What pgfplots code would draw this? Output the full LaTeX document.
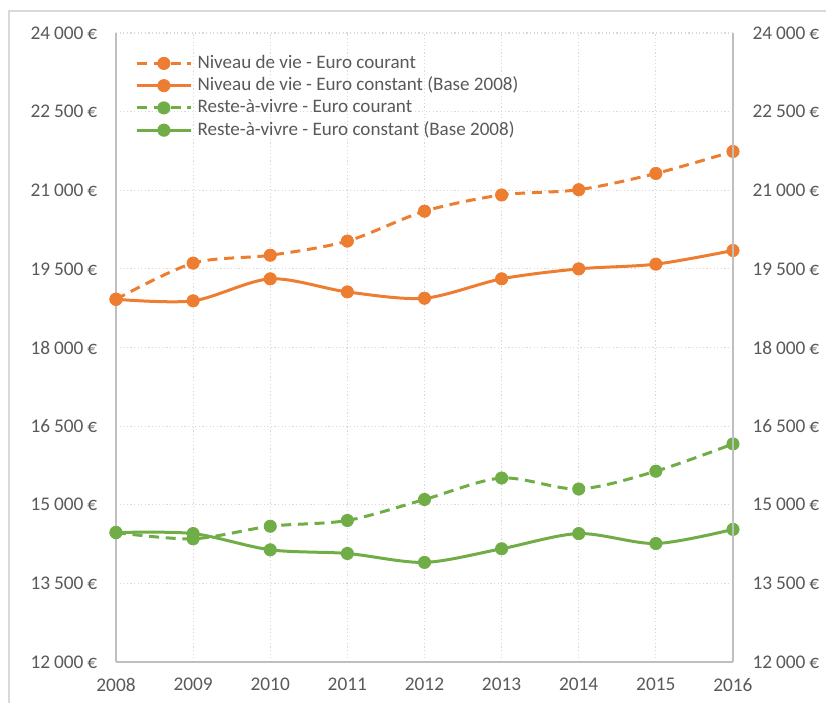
\documentclass[border=0pt]{standalone}
\usepackage{pgfplots}
\pgfplotsset{compat=1.18}
\usepackage{fontspec}
\setmainfont{Carlito}
\definecolor{corange}{HTML}{ED7D31}
\definecolor{cgreen}{HTML}{70AD47}
\definecolor{txtgray}{HTML}{595959}
\definecolor{axgray}{HTML}{BFBFBF}
\definecolor{gridgray}{HTML}{D9D9D9}
\begin{document}
\begin{tikzpicture}
\useasboundingbox (0,0) rectangle (619.5pt,527.25pt);
\draw[gridgray, line width=1.1pt] (6.75pt,-2pt) -- (6.75pt,519pt) -- (622pt,519pt);
\pgfplotsset{
 common/.style={
   at={(87pt,30.75pt)}, anchor=south west, scale only axis,
   width=462.75pt, height=471.75pt,
   xmin=2008, xmax=2016, ymin=12000, ymax=24000,
   ytick={12000,13500,...,24000},
   scaled y ticks=false, scaled x ticks=false,
   major tick length=0pt,
   tick label style={font=\fontsize{14.5}{16}\selectfont, color=txtgray},
   /pgf/number format/assume math mode=true,
   yticklabel={\pgfmathprintnumber[fixed, precision=0, 1000 sep={\hspace{0.2em}}]{\tick}\hspace{0.2em}€},
   axis line style={axgray, line width=1pt, -},
 },
 mk/.style={mark=*, mark size=4.6pt, mark options={solid, fill=#1, draw=#1, line width=0.6pt}},
}
\begin{axis}[common,
  axis x line*=bottom, axis y line*=left,
  xtick={2008,...,2016},
  xticklabel={\pgfmathprintnumber[1000 sep={}]{\tick}},
  xticklabel style={yshift=-8.6pt},
  yticklabel style={xshift=-10.6pt},
  grid=major, major grid style={gridgray, dash pattern=on 0.9pt off 1.8pt, line width=0.9pt},
  legend style={at={(axis description cs:0,1)}, anchor=north west, xshift=14.6pt, yshift=-14.25pt,
    draw=none, fill=none, inner sep=0pt, font=\fontsize{14.3}{16}\selectfont, text=txtgray,
    column sep=3pt, row sep=0pt,
    nodes={inner sep=1.1pt, text height=11pt, text depth=3.5pt, anchor=west}},
  legend cell align=left,
  legend image code/.code={\draw[mark repeat=2, mark phase=2, #1] plot coordinates {(0pt,0pt) (20pt,0pt) (40pt,0pt)};},
]
\addplot[corange, line width=2.25pt, smooth, dash pattern=on 7.5pt off 5pt, mk=corange]
 coordinates {(2008,18920) (2009,19610) (2010,19760) (2011,20030) (2012,20600) (2013,20910) (2014,21010) (2015,21320) (2016,21740)};
\addlegendentry{Niveau de vie - Euro courant}
\addplot[corange, line width=2.25pt, smooth, mk=corange]
 coordinates {(2008,18920) (2009,18890) (2010,19310) (2011,19060) (2012,18940) (2013,19310) (2014,19500) (2015,19590) (2016,19850)};
\addlegendentry{Niveau de vie - Euro constant (Base 2008)}
\addplot[cgreen, line width=2.25pt, smooth, dash pattern=on 7.5pt off 5pt, mk=cgreen]
 coordinates {(2008,14470) (2009,14350) (2010,14590) (2011,14700) (2012,15100) (2013,15510) (2014,15300) (2015,15640) (2016,16160)};
\addlegendentry{Reste-à-vivre - Euro courant}
\addplot[cgreen, line width=2.25pt, smooth, mk=cgreen]
 coordinates {(2008,14470) (2009,14450) (2010,14140) (2011,14070) (2012,13900) (2013,14160) (2014,14450) (2015,14260) (2016,14530)};
\addlegendentry{Reste-à-vivre - Euro constant (Base 2008)}
\end{axis}
\begin{axis}[common, axis x line=none, axis y line*=right,
  yticklabel style={xshift=11.2pt}]
\end{axis}
\end{tikzpicture}
\end{document}
